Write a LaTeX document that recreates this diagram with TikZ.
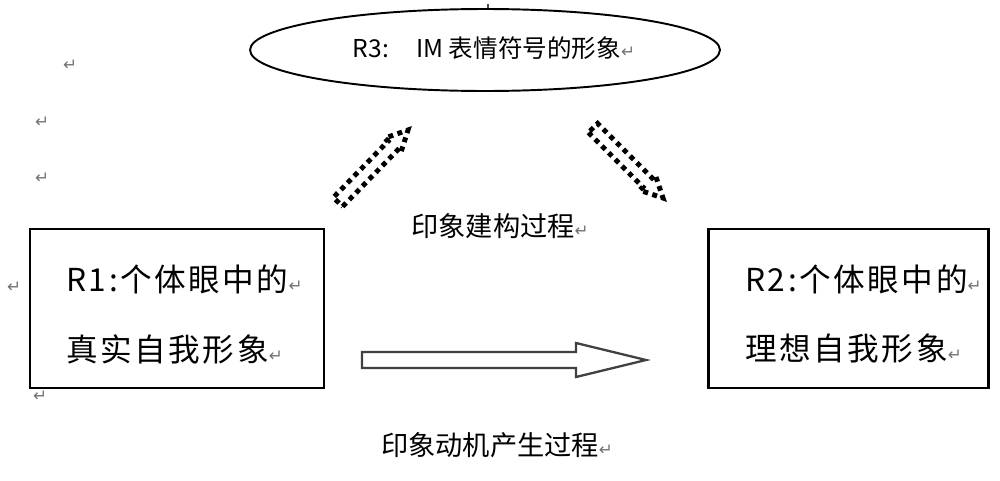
\documentclass[tikz,border=0pt]{standalone}
\usepackage{fontspec}
\usetikzlibrary{shapes.geometric}
\setmainfont{Noto Sans CJK SC}
\newfontfamily\cjkbox[LetterSpace=8]{Noto Sans CJK SC}
\newfontfamily\dejavu{DejaVu Sans}
\newcommand\retmark{{\dejavu\fontsize{9.5pt}{9.5pt}\selectfont\color{black!55}↵}}
\begin{document}
\begin{tikzpicture}[x=0.02cm,y=-0.02cm,
  boxstyle/.style={draw=black,line width=1.2pt,rectangle,inner sep=0pt},
  boxtext/.style={font=\cjkbox\fontsize{18pt}{18pt}\selectfont,inner sep=0pt,anchor=west},
  labeltext/.style={font=\fontsize{15.5pt}{15.5pt}\selectfont,inner sep=0pt},
  ellstyle/.style={draw=black,line width=1.1pt,ellipse,inner sep=0pt},
  dotarrow/.style={draw=black,line width=2.8pt,dash pattern=on 2.8pt off 2.6pt,line join=miter},
  hollowarrow/.style={draw=black!75,line width=1.3pt,fill=white,line join=miter},
  retnode/.style={inner sep=0pt}]
\useasboundingbox (0,0) rectangle (1000,480);
\fill[white] (0,0) rectangle (1000,480);

% ellipse R3
\node[ellstyle,minimum width=9.4cm,minimum height=1.64cm] (r3) at (485,50) {};
\draw[black!70,line width=0.6pt] (r3.north) ++(3,0) -- ++(0,-4);
\node[labeltext,font=\fontsize{14pt}{14pt}\selectfont] (r3t) at (494,48) {R3:\hspace{1.1em}IM 表情符号的形象\retmark};

% boxes
\node[boxstyle,minimum width=5.88cm,minimum height=3.18cm] (r1) at (177,308.5) {};
\node[boxtext] (r1a) at (66,279) {R1:个体眼中的\retmark};
\node[boxtext] (r1b) at (66,349) {真实自我形象\retmark};

\node[boxstyle,minimum width=5.6cm,minimum height=3.18cm] (r2) at (848.5,308.5) {};
\node[boxtext] (r2a) at (745,279) {R2:个体眼中的\retmark};
\node[boxtext] (r2b) at (745,349) {理想自我形象\retmark};

% labels
\node[labeltext] (lab1) at (500,226) {印象建构过程\retmark};
\node[labeltext] (lab2) at (497,445) {印象动机产生过程\retmark};

% dotted block arrows
\draw[dotarrow] (342.7,206.5) -- (397.4,150.3) -- (400.6,153.5) -- (408,130) -- (384.8,138.1) -- (388.0,141.3) -- (333.3,197.5) -- cycle;
\draw[dotarrow] (588.4,132.6) -- (642.8,187.0) -- (639.6,190.2) -- (663,198) -- (655.2,174.6) -- (652.0,177.8) -- (597.6,123.4) -- cycle;

% hollow arrow
\draw[hollowarrow] (362,352) -- (576,352) -- (576,343) -- (646,360) -- (576,377) -- (576,368) -- (362,368) -- cycle;

% stray paragraph marks
\node[retnode] (p1) at (70,65) {\retmark};
\node[retnode] (p2) at (42,122) {\retmark};
\node[retnode] (p3) at (42,178) {\retmark};
\node[retnode] (p4) at (14,287) {\retmark};
\node[retnode] (p5) at (40,396) {\retmark};
\end{tikzpicture}
\end{document}
